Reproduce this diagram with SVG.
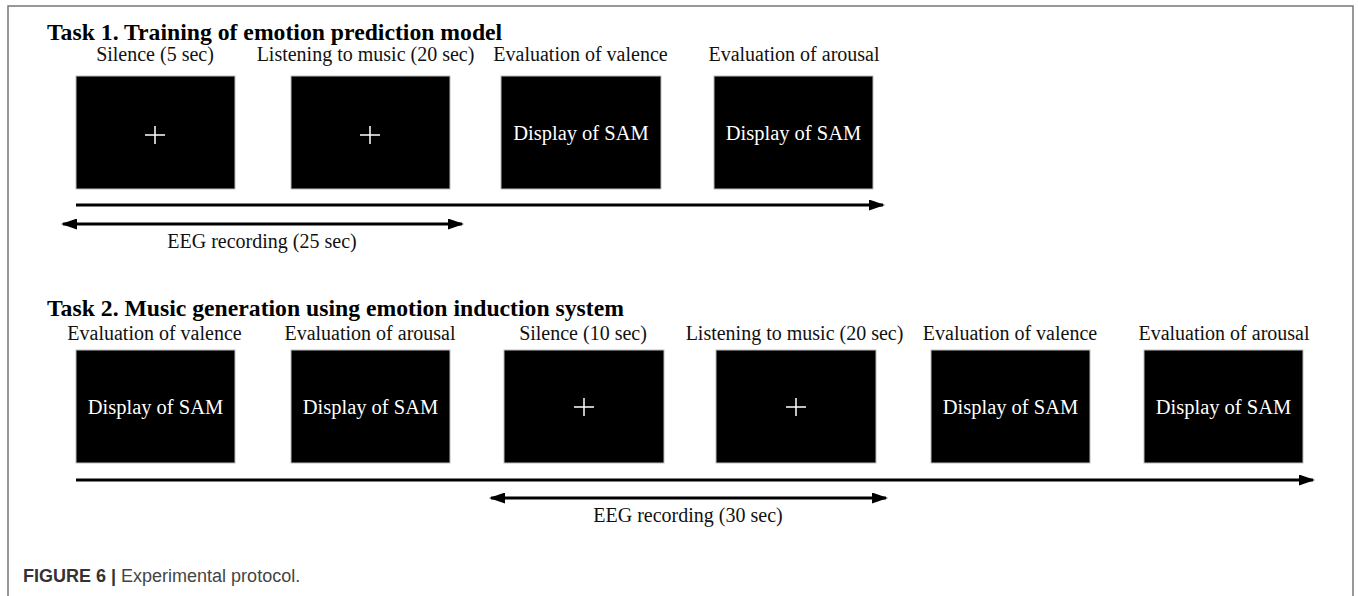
<svg xmlns="http://www.w3.org/2000/svg" width="1358" height="596" viewBox="0 0 1358 596">
  <style>
    .screen { fill: #000; stroke: #bbb; stroke-width: 1; }
    .title { font-family: "Liberation Serif", serif; font-weight: bold; font-size: 23.7px; fill: #000; }
    .label { font-family: "Liberation Serif", serif; font-size: 20px; fill: #111; text-anchor: middle; }
    .sam { font-family: "Liberation Serif", serif; font-size: 20.5px; fill: #fff; text-anchor: middle; }
    .cross { stroke: #fff; stroke-width: 1.5; fill: none; }
    .timeline { stroke: #000; stroke-width: 3; fill: none; }
    .caption { font-family: "Liberation Sans", sans-serif; font-size: 18px; fill: #444; }
  </style>
  <defs>
    <marker id="head" viewBox="0 0 16 11" refX="14" refY="5.5" markerWidth="16" markerHeight="11" markerUnits="userSpaceOnUse" orient="auto-start-reverse">
      <path d="M0,0 L16,5.5 L0,11 Z" fill="#000"/>
    </marker>
  </defs>

  <rect width="1358" height="596" fill="#fff"/>
  <!-- frame -->
  <path d="M8,596 V6 H1353 V596" fill="none" stroke="#777" stroke-width="1.5"/>

  <!-- Task 1 -->
  <text class="title" x="47" y="40">Task 1. Training of emotion prediction model</text>

  <g id="t1-silence">
    <text class="label" x="155" y="61">Silence (5 sec)</text>
    <rect class="screen" x="76" y="76" width="159" height="113"/>
    <path class="cross" d="M145,135 H165 M155,126 V144"/>
  </g>
  <g id="t1-music">
    <text class="label" x="365.5" y="61">Listening to music (20 sec)</text>
    <rect class="screen" x="291" y="76" width="159" height="113"/>
    <path class="cross" d="M360,135 H380 M370,126 V144"/>
  </g>
  <g id="t1-valence">
    <text class="label" x="580.5" y="61">Evaluation of valence</text>
    <rect class="screen" x="501" y="76" width="160" height="113"/>
    <text class="sam" x="581" y="140">Display of SAM</text>
  </g>
  <g id="t1-arousal">
    <text class="label" x="794" y="61">Evaluation of arousal</text>
    <rect class="screen" x="714" y="76" width="159" height="113"/>
    <text class="sam" x="793.5" y="140">Display of SAM</text>
  </g>

  <g id="t1-connectors">
    <line class="timeline" x1="76" y1="205" x2="883" y2="205" marker-end="url(#head)"/>
    <line class="timeline" x1="63" y1="224" x2="462" y2="224" marker-start="url(#head)" marker-end="url(#head)"/>
    <text class="label" x="262" y="248">EEG recording (25 sec)</text>
  </g>

  <!-- Task 2 -->
  <text class="title" x="47" y="316">Task 2. Music generation using emotion induction system</text>

  <g id="t2-valence-pre">
    <text class="label" x="154.5" y="340">Evaluation of valence</text>
    <rect class="screen" x="76" y="350" width="159" height="113"/>
    <text class="sam" x="155.5" y="414">Display of SAM</text>
  </g>
  <g id="t2-arousal-pre">
    <text class="label" x="370" y="340">Evaluation of arousal</text>
    <rect class="screen" x="291" y="350" width="159" height="113"/>
    <text class="sam" x="370.5" y="414">Display of SAM</text>
  </g>
  <g id="t2-silence">
    <text class="label" x="583" y="340">Silence (10 sec)</text>
    <rect class="screen" x="504" y="350" width="160" height="113"/>
    <path class="cross" d="M574,407 H594 M584,398 V416"/>
  </g>
  <g id="t2-music">
    <text class="label" x="794.5" y="340">Listening to music (20 sec)</text>
    <rect class="screen" x="716" y="350" width="160" height="113"/>
    <path class="cross" d="M786,407 H806 M796,398 V416"/>
  </g>
  <g id="t2-valence-post">
    <text class="label" x="1010" y="340">Evaluation of valence</text>
    <rect class="screen" x="931" y="350" width="159" height="113"/>
    <text class="sam" x="1010.5" y="414">Display of SAM</text>
  </g>
  <g id="t2-arousal-post">
    <text class="label" x="1224" y="340">Evaluation of arousal</text>
    <rect class="screen" x="1144" y="350" width="159" height="113"/>
    <text class="sam" x="1223.5" y="414">Display of SAM</text>
  </g>

  <g id="t2-connectors">
    <line class="timeline" x1="76" y1="480" x2="1313" y2="480" marker-end="url(#head)"/>
    <line class="timeline" x1="491" y1="498" x2="886" y2="498" marker-start="url(#head)" marker-end="url(#head)"/>
    <text class="label" x="688" y="522">EEG recording (30 sec)</text>
  </g>

  <!-- caption -->
  <text class="caption" x="23" y="582"><tspan font-weight="bold" fill="#333">FIGURE 6 | </tspan>Experimental protocol.</text>
</svg>
